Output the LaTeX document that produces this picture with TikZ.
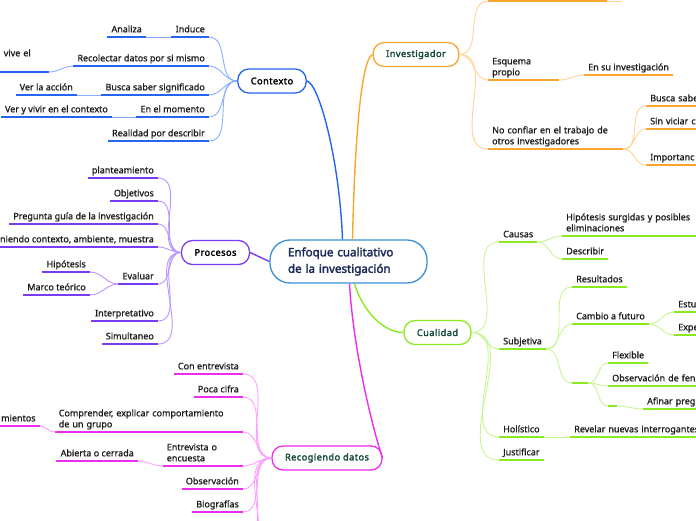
\documentclass[tikz,border=0pt]{standalone}
\usepackage{fontspec}
\setmainfont{Noto Sans}[AutoFakeBold=2.4]
\newfontfamily\leaffont{Noto Sans}[FakeBold=1.1]
\newfontfamily\topicfont{Noto Sans}[FakeBold=2.4, LetterSpace=5]
\usetikzlibrary{calc}
\definecolor{ctxblue}{HTML}{2563F5}
\definecolor{ctxlight}{HTML}{8AAEFF}
\definecolor{invorange}{HTML}{FBA52E}
\definecolor{invlight}{HTML}{FFD291}
\definecolor{procpurple}{HTML}{7B3BF0}
\definecolor{proclight}{HTML}{B894FF}
\definecolor{cualgreen}{HTML}{8BEA1F}
\definecolor{cuallight}{HTML}{C8F594}
\definecolor{recmagenta}{HTML}{EE2BEE}
\definecolor{reclight}{HTML}{FF9EFF}
\definecolor{rootblue}{HTML}{3B8ED3}
\definecolor{rootink}{HTML}{1B2B55}
\definecolor{tealink}{HTML}{174A3C}
\definecolor{leafink}{HTML}{1C1C1C}

\begin{document}
\begin{tikzpicture}[x=1pt, y=-1pt,
  topic/.style={draw=#1, line width=1.3pt, fill=white, rounded corners=11pt,
      minimum height=24pt, inner xsep=13pt, font=\topicfont\fontsize{9.2}{10}\selectfont},
  leafl/.style={anchor=south east, inner xsep=4pt, inner ysep=2pt, text depth=2.5pt,
      align=left, text=leafink, font=\leaffont\fontsize{9}{11}\selectfont},
  leafr/.style={leafl, anchor=south west},
  twoline/.style={text depth=13.5pt},
  ul/.style={line width=2pt, #1},
  twig/.style={line width=0.9pt, #1},
  trunk/.style={line width=1.4pt, #1},
]
\useasboundingbox (0,0) rectangle (696,520);

% main topics
\node[draw=rootblue, line width=1.3pt, fill=white, rounded corners=20pt, minimum height=43pt,
   text width=121pt, inner xsep=18pt, align=left, text=rootink,
   font=\fontsize{11.6}{16.5}\selectfont\bfseries] (central) at (348.5,261.5)
   {Enfoque cualitativo\\de la investigación};
\node[topic=ctxblue, text=black] (contexto) at (272,81) {Contexto};
\node[topic=invorange, text=tealink] (investigador) at (416,54.5) {Investigador};
\node[topic=procpurple, text=black] (procesos) at (215.5,252.5) {Procesos};
\node[topic=cualgreen, text=tealink] (cualidad) at (437.5,332.5) {Cualidad};
\node[topic=recmagenta, text=tealink] (recog) at (327,458) {Recogiendo datos};

\draw[trunk=ctxblue] ($(central.north)+(-6,0)$) .. controls +(-3,-80) and +(12,2) .. (contexto.east);
\draw[trunk=invorange] ($(central.north)+(4,0)$) .. controls +(2,-90) and +(-12,5) .. (investigador.west);
\draw[trunk=procpurple] (central.west) -- (procesos.east);
\draw[trunk=cualgreen] ($(central.south)+(6,0)$) .. controls +(8,27) and +(-20,0) .. (cualidad.west);
\draw[trunk=recmagenta] ($(central.south)+(1,0)$) .. controls +(4,70) and +(-8,-22) .. (recog.east);

% Contexto
\node[leafl] (induce) at (209,37) {Induce};
\node[leafl] (analiza) at (146,37) {Analiza};
\node[leafl] (recolectar) at (209,66) {Recolectar datos por si mismo};
\node[leafl, twoline, text width=41pt] (vive) at (49,72) {vive el\\\mbox{}};
\node[leafl] (busca) at (209,95) {Busca saber significado};
\node[leafl] (veraccion) at (77,95) {Ver la acción};
\node[leafl] (momento) at (209,117) {En el momento};
\node[leafl] (vervivir) at (112,117) {Ver y vivir en el contexto};
\node[leafl] (realidad) at (209,141) {Realidad por describir};

\foreach \n in {induce,recolectar,busca,momento,realidad}
  \draw[twig=ctxlight] (contexto.west) to[out=180,in=0] (\n.south east);
\draw[twig=ctxlight] (induce.south west) -- (analiza.south east);
\draw[twig=ctxlight] (recolectar.south west) to[out=180,in=0] (vive.south east);
\draw[twig=ctxlight] (busca.south west) -- (veraccion.south east);
\draw[twig=ctxlight] (momento.south west) -- (vervivir.south east);
\foreach \n in {induce,analiza,recolectar,vive,busca,veraccion,momento,vervivir,realidad}
  \draw[ul=ctxblue] (\n.south west) -- (\n.south east);

% Procesos
\node[leafl] (plante) at (158,178) {planteamiento};
\node[leafl] (objetivos) at (158,201) {Objetivos};
\node[leafl] (pregunta) at (158,224) {Pregunta guía de la investigación};
\node[leafl] (niendo) at (158,247) {niendo contexto, ambiente, muestra};
\node[leafl] (evaluar) at (158,284) {Evaluar};
\node[leafl] (hipotesis) at (90,272) {Hipótesis};
\node[leafl] (marco) at (90,295) {Marco teórico};
\node[leafl] (interp) at (158,321) {Interpretativo};
\node[leafl] (simult) at (158,344) {Simultaneo};

\foreach \n in {plante,objetivos,pregunta,niendo,evaluar,interp,simult}
  \draw[twig=proclight] (procesos.west) to[out=180,in=0] (\n.south east);
\foreach \n in {hipotesis,marco}
  \draw[twig=proclight] (evaluar.south west) to[out=180,in=0] (\n.south east);
\foreach \n in {plante,objetivos,pregunta,niendo,evaluar,hipotesis,marco,interp,simult}
  \draw[ul=procpurple] (\n.south west) -- (\n.south east);

% Recogiendo datos
\node[leafl] (conent) at (243,374) {Con entrevista};
\node[leafl] (poca) at (243,397) {Poca cifra};
\node[leafl, twoline, text width=180pt] (comprender) at (243,432) {Comprender, explicar comportamiento\\de un grupo};
\node[leafr] (mientos) at (-3,426) {mientos};
\node[leafl, twoline, text width=72pt] (entrevista) at (243,466) {Entrevista o\\encuesta};
\node[leafl] (abierta) at (138,461) {Abierta o cerrada};
\node[leafl] (observ) at (243,489) {Observación};
\node[leafl] (biog) at (243,512) {Biografías};
\coordinate (recmore1) at (243,537);
\coordinate (recmore2) at (243,562);

\foreach \n in {conent,poca,comprender,entrevista,observ,biog}
  \draw[twig=reclight] (recog.west) to[out=180,in=0] (\n.south east);
\foreach \n in {recmore1,recmore2}
  \draw[twig=reclight] (recog.west) to[out=180,in=0] (\n);
\draw[twig=reclight] (comprender.south west) to[out=180,in=0] (mientos.south east);
\draw[twig=reclight] (entrevista.south west) to[out=180,in=0] (abierta.south east);
\foreach \n in {conent,poca,comprender,mientos,entrevista,abierta,observ,biog}
  \draw[ul=recmagenta] (\n.south west) -- (\n.south east);

% Investigador
\node[leafr, minimum width=119pt] (invtop) at (488,1) {};
\coordinate (invtopnext) at (622,1);
\node[leafr, twoline, text width=63pt] (esquema) at (488,80) {Esquema\\propio};
\node[leafr] (ensu) at (584,75) {En su investigación};
\node[leafr, twoline, text width=127pt] (noconf) at (488,149) {No confiar en el trabajo de\\otros investigadores};
\node[leafr, text width=60pt] (buscasab) at (646,106) {Busca sabe};
\node[leafr, text width=60pt] (sinviciar) at (646,129) {Sin viciar c};
\node[leafr, text width=60pt] (importanc) at (646,165) {Importanc};

\foreach \n in {invtop,esquema,noconf}
  \draw[twig=invlight] (investigador.east) to[out=0,in=180] (\n.south west);
\draw[twig=invlight] (invtop.south east) -- (invtopnext);
\draw[twig=invlight] (esquema.south east) to[out=0,in=180] (ensu.south west);
\foreach \n in {buscasab,sinviciar,importanc}
  \draw[twig=invlight] (noconf.south east) to[out=0,in=180] (\n.south west);
\foreach \n in {invtop,esquema,ensu,noconf,buscasab,sinviciar,importanc}
  \draw[ul=invorange] (\n.south west) -- (\n.south east);

% Cualidad
\node[leafr] (causas) at (499,242) {Causas};
\node[leafr, twoline, text width=140pt] (hipsurg) at (562,236) {Hipótesis surgidas y posibles\\eliminaciones};
\node[leafr] (describir) at (562,259) {Describir};
\node[leafr] (subjetiva) at (499,349) {Subjetiva};
\node[leafr] (resultados) at (572,287) {Resultados};
\node[leafr] (cambio) at (572,324) {Cambio a futuro};
\node[leafr, text width=30pt] (estu) at (674,312) {Estu};
\node[leafr, text width=30pt] (expe) at (674,335) {Expe};
\node[leafr, minimum width=16pt] (bendone) at (572,383) {};
\node[leafr] (flexible) at (608,363) {Flexible};
\node[leafr, text width=95pt] (observfen) at (608,386) {Observación de fen};
\node[leafr, minimum width=9pt] (bendtwo) at (608,406) {};
\node[leafr, text width=55pt] (afinar) at (643,409) {Afinar preg};
\node[leafr] (holistico) at (499,437) {Holístico};
\node[leafr, text width=145pt] (revelar) at (570,437) {Revelar nuevas interrogantes};
\node[leafr] (justificar) at (499,460) {Justificar};

\foreach \n in {causas,subjetiva,holistico,justificar}
  \draw[twig=cuallight] (cualidad.east) to[out=0,in=180] (\n.south west);
\foreach \n in {hipsurg,describir}
  \draw[twig=cuallight] (causas.south east) to[out=0,in=180] (\n.south west);
\foreach \n in {resultados,cambio,bendone}
  \draw[twig=cuallight] (subjetiva.south east) to[out=0,in=180] (\n.south west);
\foreach \n in {estu,expe}
  \draw[twig=cuallight] (cambio.south east) to[out=0,in=180] (\n.south west);
\foreach \n in {flexible,observfen,bendtwo}
  \draw[twig=cuallight] (bendone.south east) to[out=0,in=180] (\n.south west);
\draw[twig=cuallight] (bendtwo.south east) to[out=0,in=180] (afinar.south west);
\draw[twig=cuallight] (holistico.south east) -- (revelar.south west);
\foreach \n in {causas,hipsurg,describir,subjetiva,resultados,cambio,estu,expe,bendone,
    flexible,observfen,bendtwo,afinar,holistico,revelar,justificar}
  \draw[ul=cualgreen] (\n.south west) -- (\n.south east);
\end{tikzpicture}
\end{document}
